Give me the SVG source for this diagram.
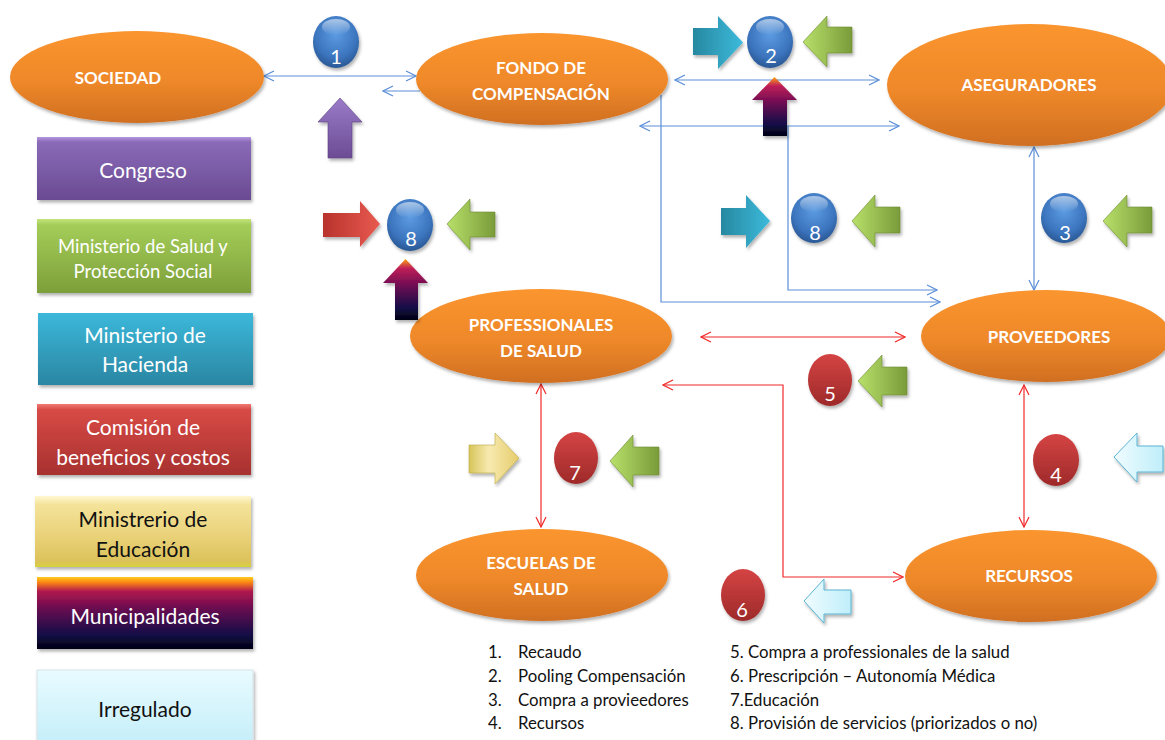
<svg xmlns="http://www.w3.org/2000/svg" width="1165" height="740" viewBox="0 0 1165 740">
  <defs>
    <linearGradient id="gOrange" x1="0" y1="0" x2="0" y2="1">
      <stop offset="0" stop-color="#fa952f"/>
      <stop offset="0.55" stop-color="#ee8829"/>
      <stop offset="1" stop-color="#d06f22"/>
    </linearGradient>
    <radialGradient id="gBlueBall" cx="0.5" cy="0.35" r="0.65">
      <stop offset="0" stop-color="#5c9be2"/>
      <stop offset="0.7" stop-color="#3b74bd"/>
      <stop offset="1" stop-color="#2a5894"/>
    </radialGradient>
    <linearGradient id="gRedBall" x1="0" y1="0" x2="0" y2="1">
      <stop offset="0" stop-color="#d54444"/>
      <stop offset="1" stop-color="#9e2a2a"/>
    </linearGradient>
    <linearGradient id="gShine" x1="0" y1="0" x2="0" y2="1">
      <stop offset="0" stop-color="#ffffff" stop-opacity="0.55"/>
      <stop offset="1" stop-color="#ffffff" stop-opacity="0"/>
    </linearGradient>
    <!-- legend box fills -->
    <linearGradient id="gPurple" x1="0" y1="0" x2="0" y2="1">
      <stop offset="0" stop-color="#b596e0"/>
      <stop offset="0.08" stop-color="#8a6ab8"/>
      <stop offset="1" stop-color="#6a4b92"/>
    </linearGradient>
    <linearGradient id="gGreen" x1="0" y1="0" x2="0" y2="1">
      <stop offset="0" stop-color="#c3e47c"/>
      <stop offset="0.08" stop-color="#a4cd58"/>
      <stop offset="1" stop-color="#7d9f3a"/>
    </linearGradient>
    <linearGradient id="gTeal" x1="0" y1="0" x2="0" y2="1">
      <stop offset="0" stop-color="#3cb8da"/>
      <stop offset="1" stop-color="#2a86a2"/>
    </linearGradient>
    <linearGradient id="gRed" x1="0" y1="0" x2="0" y2="1">
      <stop offset="0" stop-color="#f07a74"/>
      <stop offset="0.08" stop-color="#d84a46"/>
      <stop offset="1" stop-color="#a7312f"/>
    </linearGradient>
    <linearGradient id="gYellow" x1="0" y1="0" x2="0" y2="1">
      <stop offset="0" stop-color="#fff8d0"/>
      <stop offset="0.12" stop-color="#f4e39a"/>
      <stop offset="0.55" stop-color="#ead27a"/>
      <stop offset="0.92" stop-color="#dcc25a"/>
      <stop offset="1" stop-color="#d6d33c"/>
    </linearGradient>
    <linearGradient id="gMuni" x1="0" y1="0" x2="0" y2="1">
      <stop offset="0" stop-color="#ffcc20"/>
      <stop offset="0.07" stop-color="#ff8a10"/>
      <stop offset="0.2" stop-color="#b01850"/>
      <stop offset="0.45" stop-color="#660a50"/>
      <stop offset="0.8" stop-color="#141048"/>
      <stop offset="1" stop-color="#000014"/>
    </linearGradient>
    <linearGradient id="gMuniArrow" x1="0" y1="0" x2="0" y2="1">
      <stop offset="0" stop-color="#ffa010"/>
      <stop offset="0.15" stop-color="#c02058"/>
      <stop offset="0.45" stop-color="#6a0a52"/>
      <stop offset="0.8" stop-color="#141048"/>
      <stop offset="1" stop-color="#000010"/>
    </linearGradient>
    <linearGradient id="gIce" x1="0" y1="0" x2="0" y2="1">
      <stop offset="0" stop-color="#e8fbff"/>
      <stop offset="1" stop-color="#c4eef9"/>
    </linearGradient>
    <!-- arrow fills -->
    <linearGradient id="gGreenArrow" x1="0" y1="0" x2="1" y2="0">
      <stop offset="0" stop-color="#b8e06a"/>
      <stop offset="1" stop-color="#7a9b3a"/>
    </linearGradient>
    <linearGradient id="gTealArrow" x1="0" y1="0" x2="1" y2="0">
      <stop offset="0" stop-color="#2788a0"/>
      <stop offset="1" stop-color="#3cbadb"/>
    </linearGradient>
    <linearGradient id="gRedArrow" x1="0" y1="0" x2="1" y2="0">
      <stop offset="0" stop-color="#b8332d"/>
      <stop offset="1" stop-color="#e85a50"/>
    </linearGradient>
    <linearGradient id="gYellowArrow" x1="0" y1="0" x2="1" y2="0">
      <stop offset="0" stop-color="#d8c55a"/>
      <stop offset="0.4" stop-color="#f7eab0"/>
      <stop offset="1" stop-color="#e6cc6c"/>
    </linearGradient>
    <linearGradient id="gPurpleArrow" x1="0" y1="0" x2="0" y2="1">
      <stop offset="0" stop-color="#9a7bc8"/>
      <stop offset="1" stop-color="#6c4c94"/>
    </linearGradient>
    <linearGradient id="gIceArrow" x1="0" y1="0" x2="1" y2="0">
      <stop offset="0" stop-color="#f0fcff"/>
      <stop offset="1" stop-color="#bfeefa"/>
    </linearGradient>
    <filter id="shadow" x="-10%" y="-10%" width="130%" height="140%">
      <feDropShadow dx="1.5" dy="2.5" stdDeviation="1.8" flood-color="#000" flood-opacity="0.3"/>
    </filter>
    <marker id="chevBlue" viewBox="0 0 12 12" refX="11" refY="6" markerWidth="12" markerHeight="12" markerUnits="userSpaceOnUse" orient="auto-start-reverse">
      <path d="M1,1 L11,6 L1,11" fill="none" stroke="#5b8fd8" stroke-width="1.2"/>
    </marker>
    <marker id="chevRed" viewBox="0 0 12 12" refX="11" refY="6" markerWidth="12" markerHeight="12" markerUnits="userSpaceOnUse" orient="auto-start-reverse">
      <path d="M1,1 L11,6 L1,11" fill="none" stroke="#f02828" stroke-width="1.2"/>
    </marker>
  </defs>
  <style>
    .node ellipse { fill: url(#gOrange); filter: url(#shadow); }
    .nlabel { font-family: Lato, "Liberation Sans", sans-serif; font-weight: bold; font-size: 17px; fill: #ffffff; text-anchor: middle; }
    .box rect { filter: url(#shadow); }
    .btext { font-family: Lato, "Liberation Sans", sans-serif; font-size: 21px; fill: #ffffff; text-anchor: middle; }
    .btext.small { font-size: 18.5px; }
    .btext.dark { fill: #111111; }
    .ball { filter: url(#shadow); }
    .num { font-family: Lato, "Liberation Sans", sans-serif; font-size: 20px; fill: #ffffff; text-anchor: middle; }
    .arrow { filter: url(#shadow); }
    .blue { fill: none; stroke: #5b8fd8; stroke-width: 1.2; marker-end: url(#chevBlue); }
    .blue2 { marker-start: url(#chevBlue); }
    .red { fill: none; stroke: #f02828; stroke-width: 1.2; marker-end: url(#chevRed); marker-start: url(#chevRed); }
    .key { font-family: Lato, "Liberation Sans", sans-serif; font-size: 16.8px; fill: #111111; }
  </style>

  <!-- connectors -->
  <g id="connectors">
    <line class="blue blue2" x1="264" y1="76" x2="416" y2="76"/>
    <line class="blue" x1="420" y1="91" x2="383" y2="91"/>
    <line class="blue blue2" x1="675" y1="80" x2="879" y2="80"/>
    <line class="blue blue2" x1="640" y1="126" x2="899" y2="126"/>
    <polyline class="blue" points="661,95 661,302 940,302"/>
    <polyline class="blue" points="788,126 788,290 937,290"/>
    <line class="blue blue2" x1="1034" y1="147" x2="1034" y2="290"/>
    <line class="red" x1="701" y1="337" x2="905" y2="337"/>
    <polyline class="red" points="663,385 783,385 783,577 903,577"/>
    <line class="red" x1="541" y1="384" x2="541" y2="527"/>
    <line class="red" x1="1024" y1="385" x2="1024" y2="527"/>
  </g>

  <!-- actors -->
  <g id="sociedad" class="node">
    <ellipse cx="137" cy="77" rx="127" ry="46"/>
    <text class="nlabel" x="118" y="84">SOCIEDAD</text>
  </g>
  <g id="fondo" class="node">
    <ellipse cx="542" cy="79" rx="126" ry="46"/>
    <text class="nlabel" x="541" y="74">FONDO DE</text>
    <text class="nlabel" x="541" y="100">COMPENSACIÓN</text>
  </g>
  <g id="aseguradores" class="node">
    <ellipse cx="1030" cy="85" rx="143" ry="61"/>
    <text class="nlabel" x="1029" y="91">ASEGURADORES</text>
  </g>
  <g id="proveedores" class="node">
    <ellipse cx="1046" cy="336" rx="125" ry="46"/>
    <text class="nlabel" x="1049" y="343">PROVEEDORES</text>
  </g>
  <g id="profesionales" class="node">
    <ellipse cx="541" cy="336" rx="131" ry="47"/>
    <text class="nlabel" x="541" y="331">PROFESSIONALES</text>
    <text class="nlabel" x="541" y="357">DE SALUD</text>
  </g>
  <g id="escuelas" class="node">
    <ellipse cx="542" cy="575" rx="126" ry="46"/>
    <text class="nlabel" x="541" y="569">ESCUELAS DE</text>
    <text class="nlabel" x="541" y="595">SALUD</text>
  </g>
  <g id="recursos" class="node">
    <ellipse cx="1031" cy="576" rx="126" ry="46"/>
    <text class="nlabel" x="1029" y="582">RECURSOS</text>
  </g>

  <!-- legend boxes -->
  <g id="congreso" class="box">
    <rect x="37" y="137" width="214" height="63" fill="url(#gPurple)"/>
    <text class="btext" x="143" y="178">Congreso</text>
  </g>
  <g id="minsalud" class="box">
    <rect x="37" y="219" width="214" height="74" fill="url(#gGreen)"/>
    <text class="btext small" x="143" y="253">Ministerio de Salud y</text>
    <text class="btext small" x="143" y="278">Protección  Social</text>
  </g>
  <g id="hacienda" class="box">
    <rect x="38" y="313" width="215" height="72" fill="url(#gTeal)"/>
    <text class="btext" x="145" y="343">Ministerio de</text>
    <text class="btext" x="145" y="372">Hacienda</text>
  </g>
  <g id="comision" class="box">
    <rect x="37" y="404" width="214" height="71" fill="url(#gRed)"/>
    <text class="btext" x="143" y="435">Comisión  de</text>
    <text class="btext" x="143" y="465">beneficios  y costos</text>
  </g>
  <g id="educacion" class="box">
    <rect x="35" y="496" width="216" height="71" fill="url(#gYellow)"/>
    <text class="btext dark" x="143" y="527">Ministrerio de</text>
    <text class="btext dark" x="143" y="557">Educación</text>
  </g>
  <g id="municipalidades" class="box">
    <rect x="37" y="577" width="216" height="72" fill="url(#gMuni)"/>
    <text class="btext" x="145" y="624">Municipalidades</text>
  </g>
  <g id="irregulado" class="box">
    <rect x="37" y="670" width="216" height="76" fill="url(#gIce)" stroke="#d8e4e8" stroke-width="1"/>
    <text class="btext dark" x="145" y="717">Irregulado</text>
  </g>

  <!-- numbered markers -->
  <g id="m1">
    <ellipse class="ball" cx="336" cy="42" rx="23" ry="26" fill="url(#gBlueBall)"/>
    <ellipse cx="336" cy="27" rx="14" ry="8" fill="url(#gShine)"/>
    <text class="num" x="336" y="64">1</text>
  </g>
  <g id="m2">
    <ellipse class="ball" cx="770" cy="42" rx="23" ry="26" fill="url(#gBlueBall)"/>
    <ellipse cx="770" cy="27" rx="14" ry="8" fill="url(#gShine)"/>
    <text class="num" x="771" y="63">2</text>
  </g>
  <g id="m8a">
    <ellipse class="ball" cx="410" cy="225" rx="23" ry="26" fill="url(#gBlueBall)"/>
    <ellipse cx="410" cy="210" rx="14" ry="8" fill="url(#gShine)"/>
    <text class="num" x="411" y="246">8</text>
  </g>
  <g id="m8b">
    <ellipse class="ball" cx="814" cy="218" rx="23" ry="25" fill="url(#gBlueBall)"/>
    <ellipse cx="814" cy="204" rx="14" ry="8" fill="url(#gShine)"/>
    <text class="num" x="815" y="240">8</text>
  </g>
  <g id="m3">
    <ellipse class="ball" cx="1064" cy="218" rx="23" ry="25" fill="url(#gBlueBall)"/>
    <ellipse cx="1064" cy="204" rx="14" ry="8" fill="url(#gShine)"/>
    <text class="num" x="1065" y="240">3</text>
  </g>
  <g id="m5">
    <ellipse class="ball" cx="830" cy="380" rx="22" ry="26" fill="url(#gRedBall)"/>
    <text class="num" x="830" y="401">5</text>
  </g>
  <g id="m7">
    <ellipse class="ball" cx="576" cy="458" rx="22" ry="26" fill="url(#gRedBall)"/>
    <text class="num" x="575" y="480">7</text>
  </g>
  <g id="m4">
    <ellipse class="ball" cx="1056" cy="460" rx="23" ry="26" fill="url(#gRedBall)"/>
    <text class="num" x="1056" y="482">4</text>
  </g>
  <g id="m6">
    <ellipse class="ball" cx="743" cy="595" rx="22" ry="26" fill="url(#gRedBall)"/>
    <text class="num" x="742" y="617">6</text>
  </g>

  <!-- influence arrows -->
  <g id="arrows">
    <path class="arrow" fill="url(#gPurpleArrow)" stroke="#5a3f80" stroke-width="0.6" d="M328,158 L328,122 L318,122 L340,98 L362,122 L352,122 L352,158 Z"/>
    <path class="arrow" fill="url(#gTealArrow)" d="M693,28 L718,28 L718,16 L743,42.5 L718,69 L718,55 L693,55 Z"/>
    <path class="arrow" fill="url(#gGreenArrow)" stroke="#6b8a30" stroke-width="0.6" d="M852,27 L827,27 L827,16 L803,42 L827,67 L827,53 L852,53 Z"/>
    <path class="arrow" fill="url(#gMuniArrow)" d="M763,136 L763,100 L752,100 L774.5,77 L797,100 L787,100 L787,136 Z"/>
    <path class="arrow" fill="url(#gRedArrow)" d="M323,213 L360,213 L360,201 L380,224 L360,247 L360,237 L323,237 Z"/>
    <path class="arrow" fill="url(#gGreenArrow)" stroke="#6b8a30" stroke-width="0.6" d="M495,212 L470,212 L470,199 L447,224 L470,250 L470,237 L495,237 Z"/>
    <path class="arrow" fill="url(#gMuniArrow)" d="M395,320 L395,283 L383,283 L405.5,259 L428,283 L418,283 L418,320 Z"/>
    <path class="arrow" fill="url(#gTealArrow)" d="M721,208 L746,208 L746,195 L770,221 L746,248 L746,235 L721,235 Z"/>
    <path class="arrow" fill="url(#gGreenArrow)" stroke="#6b8a30" stroke-width="0.6" d="M900,207 L875,207 L875,195 L852,221 L875,247 L875,233 L900,233 Z"/>
    <path class="arrow" fill="url(#gGreenArrow)" stroke="#6b8a30" stroke-width="0.6" d="M1152,207 L1127,207 L1127,195 L1103,221 L1127,247 L1127,233 L1152,233 Z"/>
    <path class="arrow" fill="url(#gGreenArrow)" stroke="#6b8a30" stroke-width="0.6" d="M907,367 L882,367 L882,355 L858,381 L882,407 L882,395 L907,395 Z"/>
    <path class="arrow" fill="url(#gYellowArrow)" stroke="#b8a840" stroke-width="0.6" d="M469,445 L495,445 L495,433 L519,458 L495,484 L495,473 L469,473 Z"/>
    <path class="arrow" fill="url(#gGreenArrow)" stroke="#6b8a30" stroke-width="0.6" d="M659,447 L633,447 L633,435 L610,461 L633,487 L633,475 L659,475 Z"/>
    <path class="arrow" fill="url(#gIceArrow)" stroke="#5ab4d4" stroke-width="1" d="M1163,446 L1137,446 L1137,433 L1114,457 L1137,482 L1137,472 L1163,472 Z"/>
    <path class="arrow" fill="url(#gIceArrow)" stroke="#5ab4d4" stroke-width="1" d="M851,590 L824,590 L824,579 L804,601 L824,623 L824,614 L851,614 Z"/>
  </g>

  <!-- numbered key -->
  <g id="key">
    <text class="key" x="488" y="658">1.</text>
    <text class="key" x="518" y="658">Recaudo</text>
    <text class="key" x="488" y="682">2.</text>
    <text class="key" x="518" y="682">Pooling Compensación</text>
    <text class="key" x="488" y="706">3.</text>
    <text class="key" x="518" y="706">Compra a provieedores</text>
    <text class="key" x="488" y="729">4.</text>
    <text class="key" x="518" y="729">Recursos</text>
    <text class="key" x="730" y="658">5. Compra a professionales de la salud</text>
    <text class="key" x="730" y="682">6. Prescripción – Autonomía Médica</text>
    <text class="key" x="730" y="706">7.Educación</text>
    <text class="key" x="730" y="729">8. Provisión de servicios (priorizados  o no)</text>
  </g>
</svg>
